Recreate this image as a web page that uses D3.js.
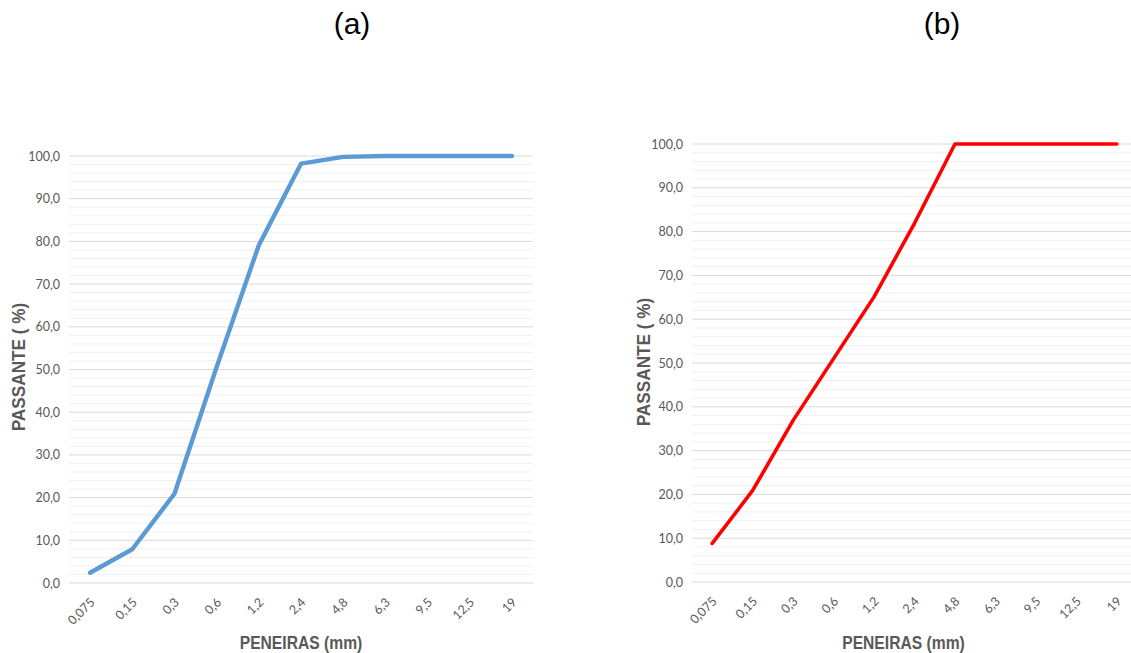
<!DOCTYPE html>
<html>
<head>
<meta charset="utf-8">
<script src="https://cdn.jsdelivr.net/npm/d3@7"></script>
<style>
  html, body { margin: 0; padding: 0; background: #fff; }
  svg { display: block; }
</style>
</head>
<body>
<svg id="chart" width="1131" height="653"></svg>
<script>
// Sieve sizes (mm) shown along the x axis
const peneiras = ["0,075", "0,15", "0,3", "0,6", "1,2", "2,4", "4,8", "6,3", "9,5", "12,5", "19"];

// Percentage passing for each sample
const passanteA = [2.4, 7.9, 20.9, 50.6, 79.1, 98.2, 99.8, 100, 100, 100, 100];
const passanteB = [8.8, 20.9, 36.9, 51.0, 65.1, 81.9, 100, 100, 100, 100, 100];

// Y tick values
const majorTicks = d3.range(0, 101, 10);
const minorTicks = d3.range(0, 101, 2).filter(v => v % 10 !== 0);

const svg = d3.select("#chart");
const fmt = v => v.toFixed(1).replace(".", ",");

function drawPanel(cfg) {
  const g = svg.append("g");
  const x = d3.scalePoint().domain(peneiras).range([cfg.left, cfg.right]).padding(0.5);
  const y = d3.scaleLinear().domain([0, 100]).range([cfg.bottom, cfg.top]);

  // minor gridlines
  g.append("g").selectAll("line").data(minorTicks).join("line")
    .attr("x1", cfg.left).attr("x2", cfg.right)
    .attr("y1", d => y(d)).attr("y2", d => y(d))
    .attr("stroke", "#f0f0f0").attr("stroke-width", 1);

  // major gridlines
  g.append("g").selectAll("line").data(majorTicks).join("line")
    .attr("x1", cfg.left).attr("x2", cfg.right)
    .attr("y1", d => y(d)).attr("y2", d => y(d))
    .attr("stroke", "#d9d9d9").attr("stroke-width", 1);

  // y axis labels
  const yAxis = d3.axisLeft(y).tickValues(majorTicks).tickFormat(fmt).tickSize(0).tickPadding(9);
  const ya = g.append("g").attr("transform", `translate(${cfg.left},0)`).call(yAxis);
  ya.select(".domain").remove();
  ya.selectAll("text")
    .attr("fill", "#595959")
    .style("font-family", "Lato, 'Open Sans', sans-serif")
    .style("font-size", "12.5px");

  // x axis labels, rotated
  const xAxis = d3.axisBottom(x).tickSize(0).tickPadding(0);
  const xa = g.append("g").attr("transform", `translate(0,${cfg.bottom})`).call(xAxis);
  xa.select(".domain").remove();
  xa.selectAll("text")
    .attr("fill", "#595959")
    .style("font-family", "Lato, 'Open Sans', sans-serif")
    .style("font-size", "12.5px")
    .attr("text-anchor", "end")
    .attr("dy", null)
    .attr("y", 0)
    .attr("transform", "translate(5,20) rotate(-45)");

  // data line
  const line = d3.line()
    .x((d, i) => x(peneiras[i]))
    .y(d => y(d));
  g.append("path")
    .datum(cfg.values)
    .attr("fill", "none")
    .attr("stroke", cfg.color)
    .attr("stroke-width", cfg.width)
    .attr("stroke-linejoin", "round")
    .attr("stroke-linecap", "round")
    .attr("d", line);

  // axis titles (slightly condensed bold face)
  g.append("text")
    .attr("transform", `translate(${(cfg.left + cfg.right) / 2 + cfg.xTitleShift},649) scale(0.87,1)`)
    .attr("text-anchor", "middle")
    .attr("fill", "#595959")
    .style("font-family", "'Liberation Sans', Arial, sans-serif")
    .style("font-weight", "bold")
    .style("font-size", "18px")
    .text("PENEIRAS (mm)");

  g.append("text")
    .attr("transform", `translate(${cfg.yTitleX},${cfg.yTitleY}) rotate(-90) scale(0.93,1)`)
    .attr("text-anchor", "middle")
    .attr("fill", "#595959")
    .style("font-family", "'Liberation Sans', Arial, sans-serif")
    .style("font-weight", "bold")
    .style("font-size", "18.5px")
    .text("PASSANTE ( %)");

  // panel label
  g.append("text")
    .attr("x", cfg.titleX)
    .attr("y", 34)
    .attr("text-anchor", "middle")
    .attr("fill", "#000")
    .style("font-family", "'Liberation Sans', Arial, sans-serif")
    .style("font-size", "30px")
    .text(cfg.title);
}

drawPanel({
  left: 69, right: 533, top: 156, bottom: 583,
  values: passanteA, color: "#5b9bd5", width: 4.4,
  yTitleX: 25, yTitleY: 367, xTitleShift: 0, titleX: 352, title: "(a)"
});

drawPanel({
  left: 692, right: 1137, top: 144, bottom: 582,
  values: passanteB, color: "#ff0000", width: 3.6,
  yTitleX: 650, yTitleY: 362, xTitleShift: -11, titleX: 942, title: "(b)"
});
</script>
</body>
</html>
